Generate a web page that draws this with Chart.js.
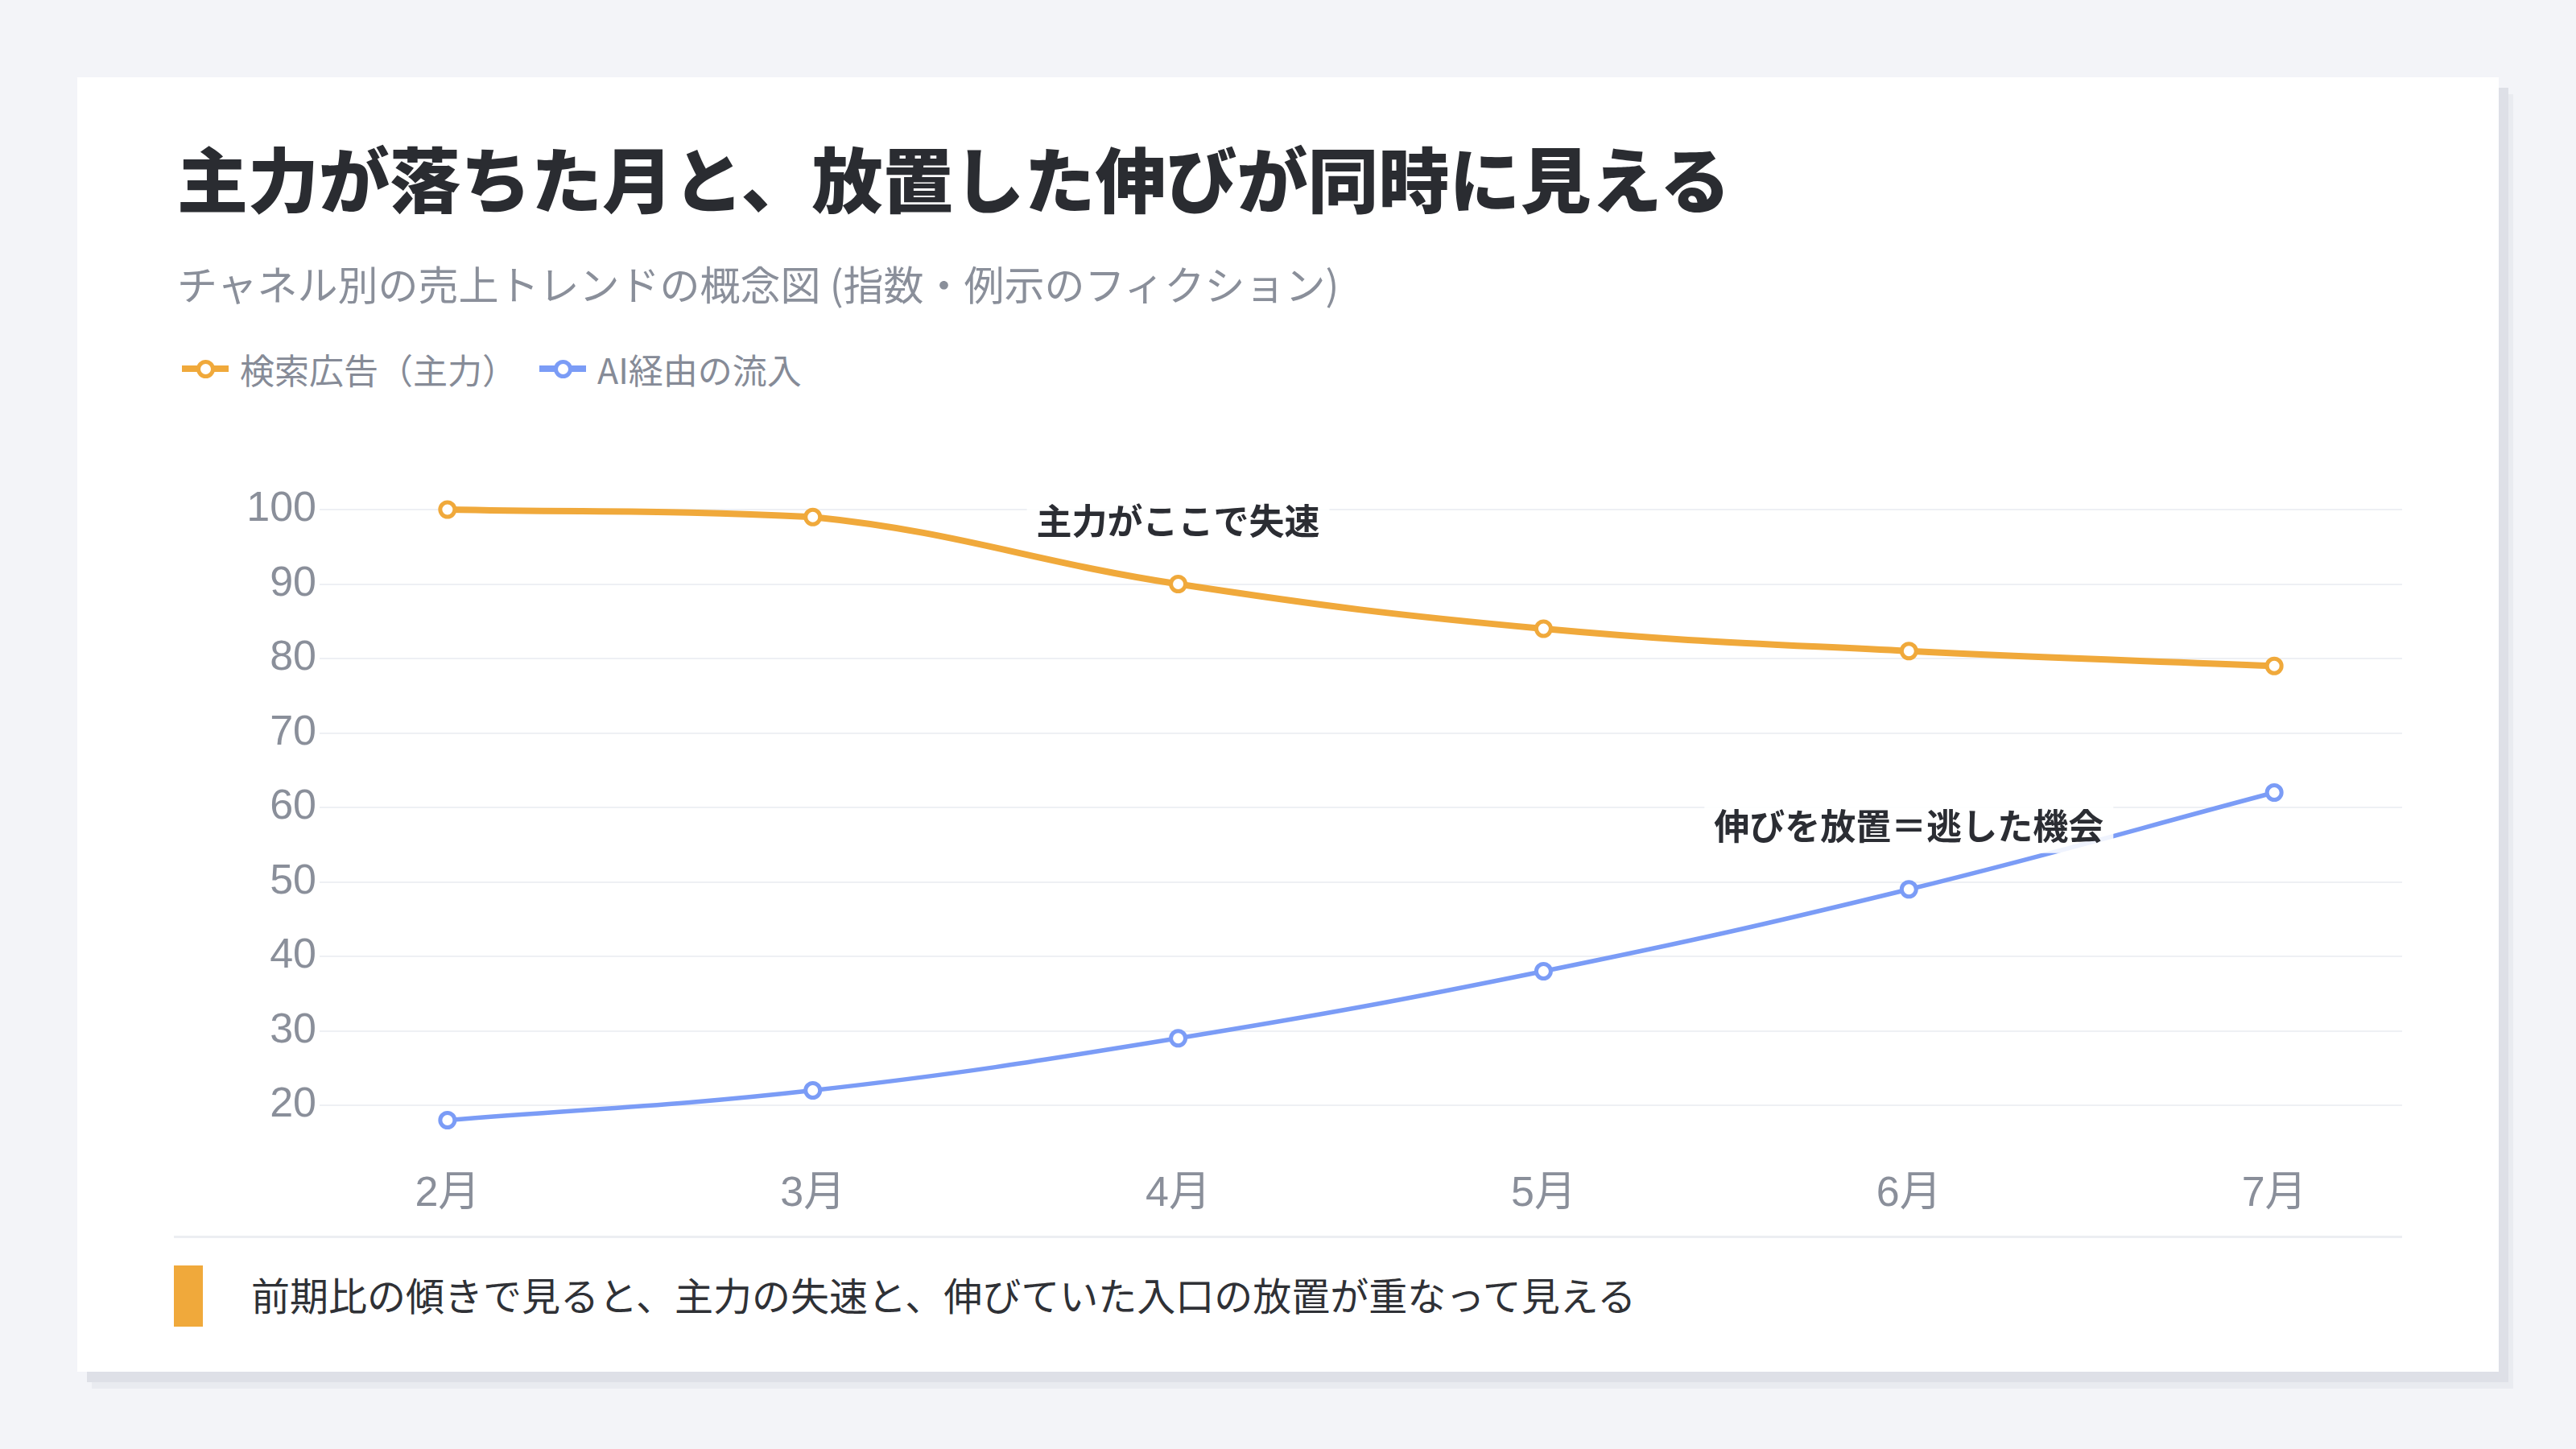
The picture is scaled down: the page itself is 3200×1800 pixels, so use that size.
<!DOCTYPE html>
<html lang="ja">
<head>
<meta charset="utf-8">
<title>主力が落ちた月と、放置した伸びが同時に見える</title>
<script src="https://cdn.jsdelivr.net/npm/chart.js@4.4.1/dist/chart.umd.min.js"></script>
<style>
  html, body { margin: 0; padding: 0; }
  body {
    width: 3200px; height: 1800px; position: relative; overflow: hidden;
    background: #f3f4f8;
    font-family: "Noto Sans CJK JP", "Noto Sans", sans-serif;
  }
  .card {
    position: absolute; left: 96px; top: 96px; width: 3008px; height: 1608px;
    background: #fff;
    box-shadow: 12px 13px 0 0 #dee0e7, 18px 21px 0 0 #e9ebf0;
  }
  .title {
    position: absolute; left: 124px; top: 79px; margin: 0;
    font-size: 88px; line-height: 1; font-weight: 900; color: #2a2c31;
    white-space: nowrap;
  }
  .subtitle {
    position: absolute; left: 124px; top: 230px;
    font-size: 50px; line-height: 1; color: #8a8f9a; white-space: nowrap;
  }
  .legend {
    position: absolute; left: 130px; top: 340px; height: 44px;
    display: flex; align-items: center;
    font-size: 43px; line-height: 1; color: #868b97; white-space: nowrap;
  }
  .legend .item { display: flex; align-items: center; margin-right: 28px; }
  .legend .mk { position: relative; width: 58px; height: 24px; margin-right: 14px; }
  .legend .mk::before {
    content: ""; position: absolute; left: 0; right: 0; top: 50%;
    height: 8px; margin-top: -4px; background: var(--c);
  }
  .legend .mk::after {
    content: ""; position: absolute; left: 50%; top: 50%;
    width: 13px; height: 13px; margin: -11.5px 0 0 -11.5px;
    border: 5px solid var(--c); border-radius: 50%; background: #fff;
  }
  #chart { position: absolute; left: 104px; top: 464px; }
  .rule {
    position: absolute; left: 120px; top: 1439px; width: 2768px; height: 3px;
    background: #eceef2;
  }
  .bar {
    position: absolute; left: 120px; top: 1476px; width: 36px; height: 76px;
    background: #f0a93b;
  }
  .note {
    position: absolute; left: 216px; top: 1487px;
    font-size: 48px; line-height: 1; color: #2f3136; white-space: nowrap;
  }
</style>
</head>
<body>
<div class="card">
  <h1 class="title">主力が落ちた月と、放置した伸びが同時に見える</h1>
  <div class="subtitle">チャネル別の売上トレンドの概念図 (指数・例示のフィクション)</div>
  <div class="legend" id="legend"></div>
  <canvas id="chart" width="2850" height="960"></canvas>
  <div class="rule"></div>
  <div class="bar"></div>
  <div class="note">前期比の傾きで見ると、主力の失速と、伸びていた入口の放置が重なって見える</div>
</div>
<script>
// データ
const months = ['2月', '3月', '4月', '5月', '6月', '7月'];
const searchAds = [100, 99, 90, 84, 81, 79];   // 検索広告（主力）
const aiInflow = [18, 22, 29, 38, 49, 62];     // AI経由の流入
const yTicks = [20, 30, 40, 50, 60, 70, 80, 90, 100];
const seriesNames = ['検索広告（主力）', 'AI経由の流入'];
const seriesColors = ['#f0a93b', '#7b9cf6'];
const notes = [
  { dataset: 0, index: 2, text: '主力がここで失速' },
  { dataset: 1, index: 4, text: '伸びを放置＝逃した機会' }
];

// 凡例 (HTML)
const legend = document.getElementById('legend');
seriesNames.forEach((name, i) => {
  const item = document.createElement('span');
  item.className = 'item';
  const mk = document.createElement('span');
  mk.className = 'mk';
  mk.style.setProperty('--c', seriesColors[i]);
  item.appendChild(mk);
  item.appendChild(document.createTextNode(name));
  legend.appendChild(item);
});

// 注記ラベル
const notesPlugin = {
  id: 'notes',
  afterDatasetsDraw(chart) {
    const ctx = chart.ctx;
    ctx.save();
    ctx.font = 'bold 44px "Noto Sans CJK JP", sans-serif';
    ctx.textAlign = 'center';
    ctx.textBaseline = 'middle';
    notes.forEach(n => {
      const pt = chart.getDatasetMeta(n.dataset).data[n.index];
      const x = pt.x;
      const y = pt.y - 80;
      const w = ctx.measureText(n.text).width + 24;
      const h = 70;
      ctx.fillStyle = 'rgba(255,255,255,0.88)';
      ctx.fillRect(x - w / 2, y - h / 2, w, h);
      ctx.fillStyle = '#2b2d33';
      ctx.fillText(n.text, x, y + 2);
    });
    ctx.restore();
  }
};

const tickFont = { family: '"Liberation Sans", "Noto Sans CJK JP", sans-serif', size: 52 };

new Chart(document.getElementById('chart'), {
  type: 'line',
  data: {
    datasets: [searchAds, aiInflow].map((vals, i) => ({
      label: seriesNames[i],
      data: vals.map((v, j) => ({ x: j, y: v })),
      borderColor: seriesColors[i],
      borderWidth: i === 0 ? 8 : 5.5,
      pointRadius: 9,
      pointBorderWidth: 5,
      pointBackgroundColor: '#fff',
      pointBorderColor: seriesColors[i],
      tension: 0.4,
      clip: false
    }))
  },
  options: {
    responsive: false,
    animation: false,
    devicePixelRatio: 1,
    layout: { padding: { top: 73, right: 66, bottom: 0, left: 0 } },
    plugins: { legend: { display: false }, tooltip: { enabled: false } },
    scales: {
      x: {
        type: 'linear',
        min: -0.35,
        max: 5.35,
        afterBuildTicks: s => { s.ticks = months.map((m, i) => ({ value: i })); },
        afterFit: s => { s.height = 73; },
        grid: { display: false },
        border: { display: false },
        ticks: {
          callback: v => months[v],
          color: '#8a8f9a',
          font: tickFont,
          padding: -3,
          maxRotation: 0
        }
      },
      y: {
        min: 12,
        max: 100,
        afterBuildTicks: s => { s.ticks = yTicks.map(v => ({ value: v })); },
        afterFit: s => { s.width = 197; },
        grid: { color: '#eef0f4', lineWidth: 2, drawTicks: false },
        border: { display: false },
        ticks: { color: '#8a8f9a', font: tickFont, padding: 4 }
      }
    }
  },
  plugins: [notesPlugin]
});
</script>
</body>
</html>
